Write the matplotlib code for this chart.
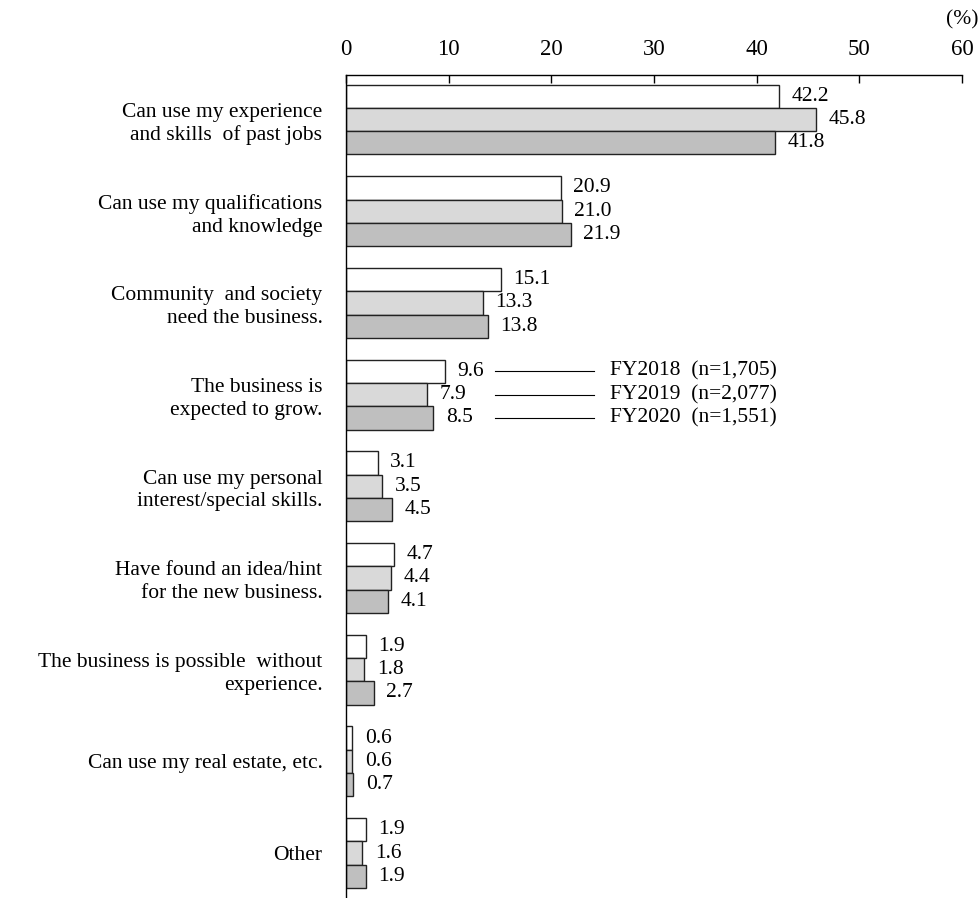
import matplotlib.pyplot as plt
import numpy as np

plt.rcParams['font.family'] = ['Liberation Serif', 'DejaVu Serif']

categories = [
    'Can use my experience\nand skills  of past jobs',
    'Can use my qualifications\nand knowledge',
    'Community  and society\nneed the business.',
    'The business is\nexpected to grow.',
    'Can use my personal\ninterest/special skills.',
    'Have found an idea/hint\nfor the new business.',
    'The business is possible  without\nexperience.',
    'Can use my real estate, etc.',
    'Other',
]
series_labels = ['FY2018  (n=1,705)', 'FY2019  (n=2,077)', 'FY2020  (n=1,551)']
fy2018 = [42.2, 20.9, 15.1, 9.6, 3.1, 4.7, 1.9, 0.6, 1.9]
fy2019 = [45.8, 21.0, 13.3, 7.9, 3.5, 4.4, 1.8, 0.6, 1.6]
fy2020 = [41.8, 21.9, 13.8, 8.5, 4.5, 4.1, 2.7, 0.7, 1.9]

colors = ['#ffffff', '#d9d9d9', '#bfbfbf']
fig = plt.figure(figsize=(9.8, 8.98), dpi=100)
ax = fig.add_axes([346 / 980, 0.0, 616 / 980, 1 - 75 / 898])

y = np.arange(len(categories))
h = 0.254
series = [fy2018, fy2019, fy2020]
for k, vals in enumerate(series):
    pos = y + (k - 1) * h
    ax.barh(pos, vals, height=h, color=colors[k], edgecolor='#222222',
            linewidth=1.0)
    for p, v in zip(pos, vals):
        ax.annotate(f'{v:.1f}', xy=(v, p), xytext=(9, 0),
                    textcoords='offset points', ha='left', va='center',
                    fontsize=15.5)

# leader lines from the "expected to grow" group to the series names
grp = 3
for k, name in enumerate(series_labels):
    py = grp + (k - 1) * h
    ax.plot([14.5, 24.2], [py, py], color='black', lw=0.8)
    ax.text(25.7, py, name, ha='left', va='center', fontsize=15.5)

ax.set_xlim(0, 60)
ax.set_ylim(8 + 0.49, -0.485)
ax.xaxis.tick_top()
ax.set_xticks(np.arange(0, 61, 10))
ax.tick_params(axis='x', direction='in', length=6, width=1, pad=11,
               labelsize=16.5)
ax.set_yticks(y)
ax.set_yticklabels(categories, fontsize=15.5, ha='right',
                   multialignment='right', linespacing=1.25)
ax.tick_params(axis='y', length=0, pad=17)
for s in ['right', 'bottom']:
    ax.spines[s].set_visible(False)
ax.spines['top'].set_linewidth(1)
ax.spines['left'].set_linewidth(1)

fig.text(978 / 980, 1 - 20 / 898, '(%)', ha='right', va='center',
         fontsize=15.5)

fig.savefig('out.png', dpi=100)
